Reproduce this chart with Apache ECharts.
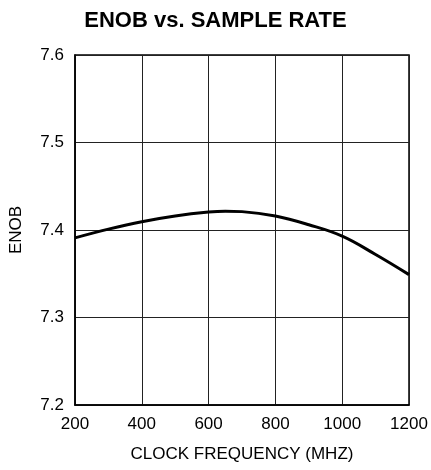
<!DOCTYPE html>
<html>
<head>
<meta charset="utf-8">
<script src="https://cdn.jsdelivr.net/npm/echarts@6/dist/echarts.min.js"></script>
<style>
html,body{margin:0;padding:0;background:#fff;}
#chart{width:431px;height:470px;}
</style>
</head>
<body>
<div id="chart"></div>
<script>
const titleText = 'ENOB vs. SAMPLE RATE';
const xName = 'CLOCK FREQUENCY (MHZ)';
const yName = 'ENOB';
const clockMHz = [200, 300, 400, 500, 600, 650, 700, 800, 900, 1000, 1100, 1200];
const enob = [7.391, 7.401, 7.4095, 7.416, 7.4205, 7.4215, 7.421, 7.416, 7.406, 7.393, 7.372, 7.349];

const FONT = 'Arial, "Liberation Sans", Helvetica, sans-serif';
const chart = echarts.init(document.getElementById('chart'), null, {renderer: 'canvas'});
chart.setOption({
  animation: false,
  backgroundColor: '#fff',
  title: {
    text: titleText, left: 'center', top: 5,
    textStyle: {fontFamily: FONT, fontSize: 22, fontWeight: 'bold', color: '#000'}
  },
  grid: {left: 75, right: 22, top: 55, bottom: 65, show: true, borderColor: '#000', borderWidth: 1.5, backgroundColor: 'transparent'},
  xAxis: {
    type: 'value', min: 200, max: 1200, interval: 200,
    name: xName, nameLocation: 'middle', nameGap: 41,
    nameTextStyle: {fontFamily: FONT, fontSize: 17, color: '#000'},
    axisLine: {show: true, lineStyle: {color: '#000', width: 1.5}},
    axisTick: {show: false},
    axisLabel: {fontFamily: FONT, fontSize: 17, color: '#000', margin: 11,
      formatter: v => String(v)},
    splitLine: {show: true, lineStyle: {color: '#222', width: 1}}
  },
  yAxis: {
    type: 'value', min: 7.2, max: 7.6, interval: 0.1,
    name: yName, nameLocation: 'middle', nameGap: 50, nameRotate: 90,
    nameTextStyle: {fontFamily: FONT, fontSize: 17, color: '#000', padding: [0, 0, 0, 0]},
    axisLine: {show: true, lineStyle: {color: '#000', width: 1.5}},
    axisTick: {show: false},
    axisLabel: {fontFamily: FONT, fontSize: 17, color: '#000', margin: 11,
      formatter: v => v.toFixed(1)},
    splitLine: {show: true, lineStyle: {color: '#222', width: 1}}
  },
  series: [{
    type: 'line',
    data: clockMHz.map((x, i) => [x, enob[i]]),
    smooth: 0.4,
    showSymbol: false,
    lineStyle: {color: '#000', width: 3}
  }]
});
</script>
</body>
</html>
